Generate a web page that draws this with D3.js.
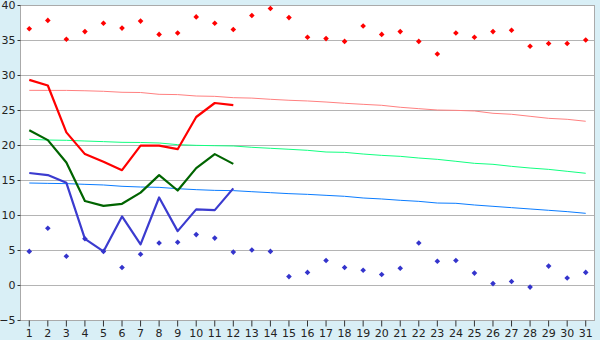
<!DOCTYPE html>
<html lang="en">
  <head>
    <meta charset="utf-8">
    <title>Daily temperatures</title>
    <script src="https://cdn.jsdelivr.net/npm/d3@7"></script>
    <style>
      body { margin: 0; background: #d9eff6; }
      svg { display: block; }
      .tick text { font: 11px "DejaVu Sans", sans-serif; fill: #222; }
      .grid line { stroke: #b4b4b4; }
    </style>
  </head>
  <body>
    <svg id="chart"></svg>
    <script>
      // days of the month
      var days = d3.range(1, 32);
      var yTicks = [-5, 0, 5, 10, 15, 20, 25, 30, 35, 40];

      // daily record maximum / minimum (diamonds)
      var recordMax = [36.6, 37.8, 35.1, 36.2, 37.4, 36.7, 37.7, 35.8, 36.0, 38.3, 37.4, 36.5, 38.5, 39.5, 38.2, 35.4,
                       35.2, 34.8, 37.0, 35.8, 36.2, 34.8, 33.0, 36.0, 35.4, 36.2, 36.4, 34.1, 34.5, 34.5, 35.0];
      var recordMin = [4.8, 8.1, 4.1, 6.6, 4.8, 2.5, 4.4, 6.0, 6.1, 7.2, 6.7, 4.7, 5.0, 4.8, 1.2, 1.8,
                       3.5, 2.5, 2.1, 1.5, 2.4, 6.0, 3.4, 3.5, 1.7, 0.2, 0.5, -0.3, 2.7, 1.0, 1.8];

      // this month so far (thick lines)
      var curMax  = [29.3, 28.5, 21.8, 18.7, 17.6, 16.4, 19.9, 19.9, 19.4, 24.0, 26.0, 25.7];
      var curMean = [22.1, 20.7, 17.5, 12.0, 11.3, 11.6, 13.2, 15.7, 13.5, 16.7, 18.7, 17.3];
      var curMin  = [16.0, 15.7, 14.6, 6.6, 4.8, 9.8, 5.8, 12.5, 7.7, 10.8, 10.7, 13.8];

      // long-term normals (thin lines)
      var normMax  = [27.81, 27.8, 27.8, 27.75, 27.67, 27.53, 27.5, 27.24, 27.2, 27.0, 26.95, 26.76, 26.7, 26.53, 26.39, 26.29,
                      26.14, 25.96, 25.81, 25.67, 25.39, 25.19, 25.0, 24.95, 24.86, 24.53, 24.39, 24.1, 23.81, 23.67, 23.39];
      var normMean = [20.81, 20.71, 20.67, 20.57, 20.48, 20.38, 20.36, 20.29, 20.05, 19.95, 19.9, 19.86, 19.67, 19.53, 19.39, 19.24,
                      19.0, 18.95, 18.71, 18.52, 18.38, 18.14, 17.95, 17.67, 17.38, 17.24, 16.95, 16.71, 16.52, 16.24, 15.96];
      var normMin  = [14.57, 14.52, 14.48, 14.38, 14.29, 14.1, 14.0, 13.95, 13.76, 13.62, 13.52, 13.48, 13.33, 13.19, 13.05, 12.95,
                      12.81, 12.67, 12.43, 12.29, 12.1, 11.95, 11.71, 11.67, 11.43, 11.24, 11.05, 10.86, 10.67, 10.48, 10.24];

      var W = 600, H = 340;
      var margin = {top: 5, right: 5, bottom: 20, left: 20};

      var svg = d3.select("#chart").attr("width", W).attr("height", H);

      var x = d3.scaleBand()
          .domain(days)
          .range([margin.left, W - margin.right])
          .padding(0);

      var y = d3.scaleLinear()
          .domain([-5, 40])
          .range([H - margin.bottom, margin.top]);

      function cx(d) { return x(d) + x.bandwidth() / 2; }

      // plot background
      svg.append("rect")
          .attr("x", margin.left)
          .attr("y", margin.top)
          .attr("width", W - margin.left - margin.right)
          .attr("height", H - margin.top - margin.bottom)
          .attr("fill", "#fff");

      // horizontal grid
      svg.append("g")
          .attr("class", "grid")
          .selectAll("line")
          .data(yTicks)
          .join("line")
          .attr("x1", margin.left)
          .attr("x2", W - margin.right)
          .attr("y1", function(d) { return Math.round(y(d)) + 0.5; })
          .attr("y2", function(d) { return Math.round(y(d)) + 0.5; });

      // frame
      svg.append("rect")
          .attr("x", margin.left + 0.5)
          .attr("y", margin.top + 0.5)
          .attr("width", W - margin.left - margin.right - 1)
          .attr("height", H - margin.top - margin.bottom)
          .attr("fill", "none")
          .attr("stroke", "#aaa");

      // axes
      var xAxis = svg.append("g")
          .attr("transform", "translate(0," + (H - margin.bottom + 0.5) + ")")
          .call(d3.axisBottom(x).tickSize(6).tickPadding(3));
      xAxis.select(".domain").remove();
      xAxis.selectAll(".tick line").attr("stroke", "#333");

      var yAxis = svg.append("g")
          .attr("transform", "translate(" + (margin.left + 0.5) + ",0)")
          .call(d3.axisLeft(y).tickValues(yTicks).tickSize(3).tickPadding(2));
      yAxis.select(".domain").remove();
      yAxis.selectAll(".tick line").attr("stroke", "#333");
      yAxis.selectAll(".tick text").text(function(d) { return d < 0 ? "\u2212" + (-d) : d; });

      function drawLine(values, color, width) {
        var line = d3.line()
            .x(function(d, i) { return cx(days[i]); })
            .y(function(d) { return y(d); });
        svg.append("path")
            .datum(values)
            .attr("fill", "none")
            .attr("stroke", color)
            .attr("stroke-width", width)
            .attr("stroke-linejoin", "round")
            .attr("d", line);
      }

      // normals
      drawLine(normMax, "#ff8080", 1);
      drawLine(normMean, "#10ff80", 1);
      drawLine(normMin, "#0a7cff", 1);

      // current month
      drawLine(curMax, "#ff0000", 2.2);
      drawLine(curMean, "#006400", 2.2);
      drawLine(curMin, "#3b3bcf", 2.2);

      // records
      var diamond = d3.symbol().type(d3.symbolDiamond2).size(20);

      function drawMarks(values, color) {
        svg.append("g")
            .selectAll("path")
            .data(values)
            .join("path")
            .attr("transform", function(d, i) { return "translate(" + cx(days[i]) + "," + y(d) + ")"; })
            .attr("d", diamond)
            .attr("fill", color);
      }

      drawMarks(recordMax, "#ff0000");
      drawMarks(recordMin, "#3434cc");
    </script>
  </body>
</html>
